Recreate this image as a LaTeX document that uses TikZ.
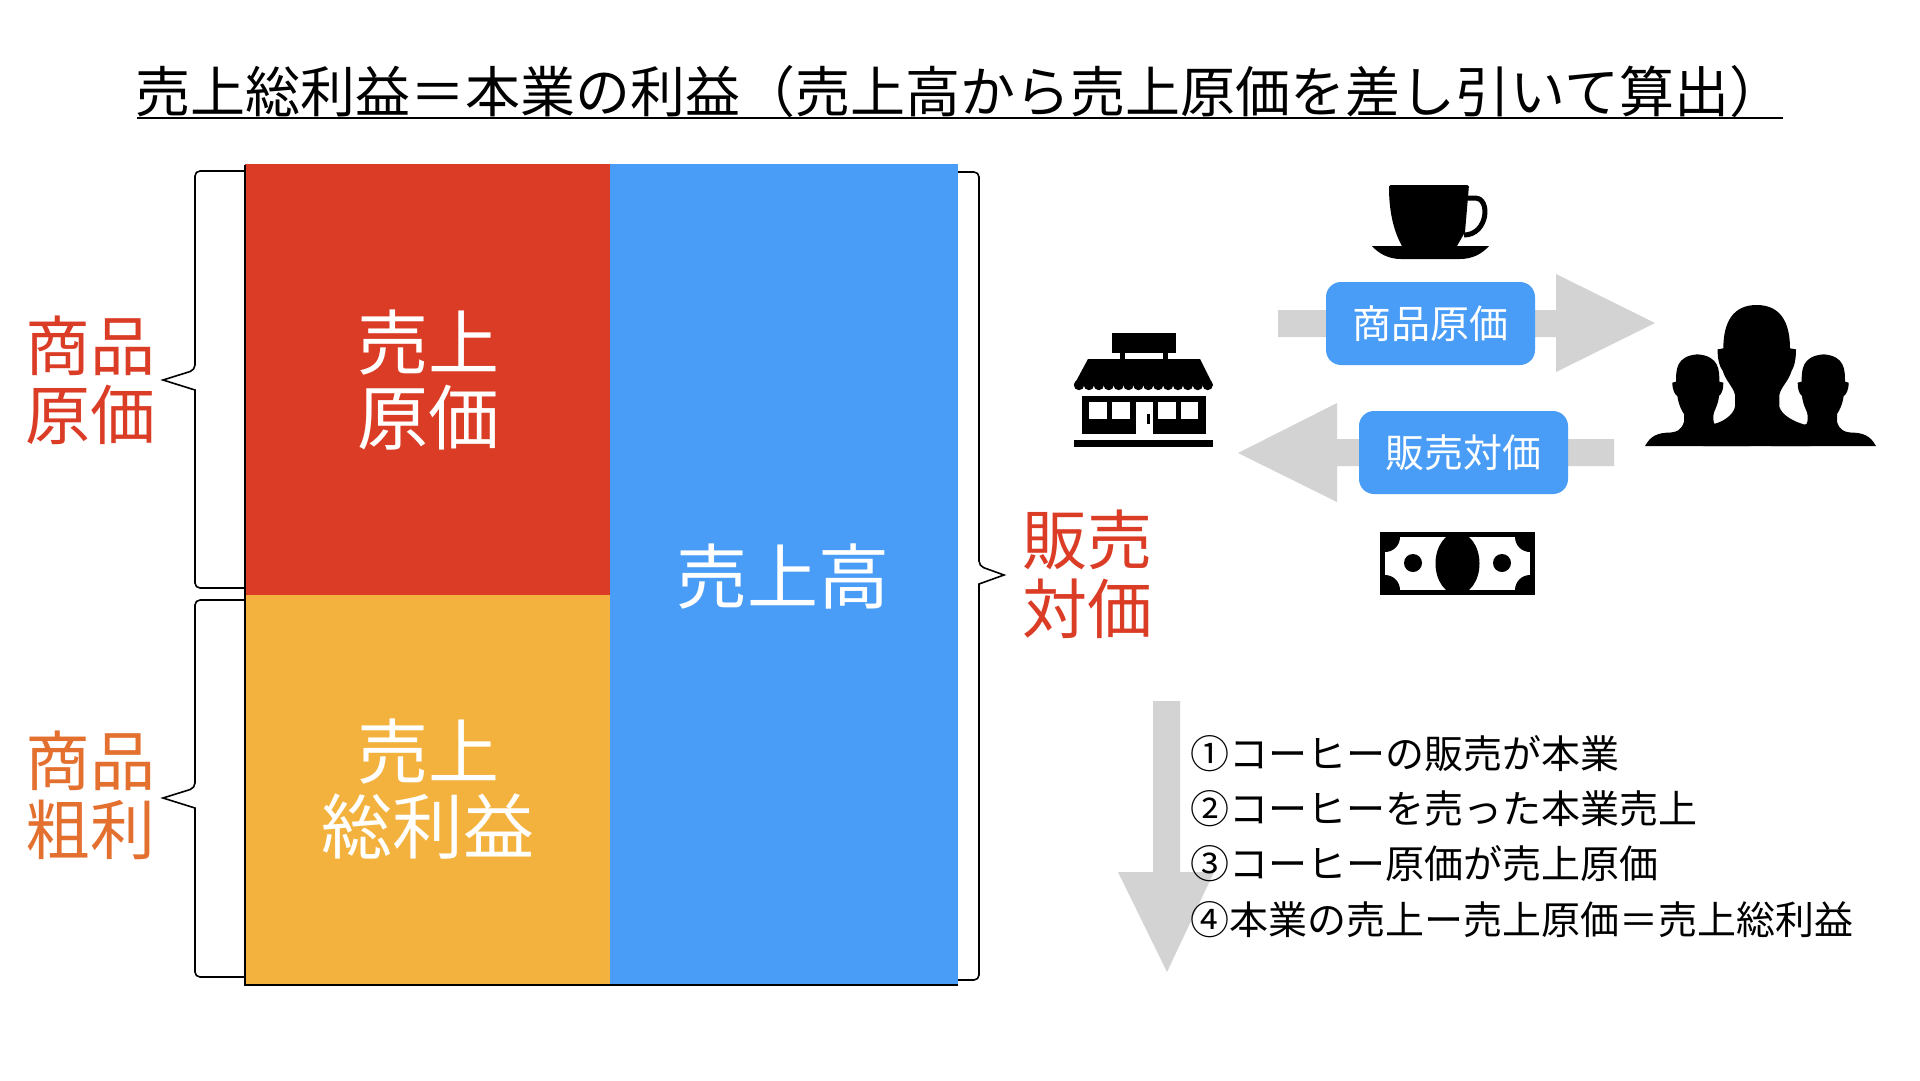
\documentclass[tikz,border=0pt]{standalone}
\usepackage{fontspec}
\setmainfont{Noto Sans CJK JP}
\definecolor{cred}{HTML}{DB3C26}
\definecolor{cyellow}{HTML}{F3B13D}
\definecolor{cblue}{HTML}{499DF7}
\definecolor{cgray}{HTML}{D3D3D3}
\definecolor{corange}{HTML}{E4702F}
\newcommand{\fs}[2]{\fontsize{#1}{#2}\selectfont}
\newcommand{\sideperson}{(232,223) .. controls (168,228) and (168,270) .. (168,305) -- (157,308) .. controls (157,330) and (165,345) .. (172,348) .. controls (176,375) and (185,392) .. (192,402) -- (192,425) .. controls (185,450) and (170,458) .. (140,458) .. controls (100,460) and (85,480) .. (75,498) -- (390,498) -- (282,430) .. controls (278,415) and (280,400) .. (284,392) .. controls (292,375) and (296,360) .. (297,348) .. controls (307,340) and (310,325) .. (310,308) -- (298,305) .. controls (298,270) and (298,228) .. (232,223) -- cycle}
\tikzset{
  big/.style={text=white,font=\fs{71}{75},align=center,inner sep=0pt},
  side/.style={font=\fs{65}{69},align=center,inner sep=0pt},
  pill/.style={fill=cblue,rounded corners=15pt,minimum width=209pt,minimum height=83pt,inner sep=0pt,text=white,font=\fs{39}{39}},
  brace/.style={draw=black,line width=1.6pt,rounded corners=5pt},
  block/.style={fill=cgray,draw=none},
  listline/.style={font=\fs{39}{39},anchor=west,inner sep=0pt}
}
\begin{document}
\begin{tikzpicture}[x=1pt,y=-1pt]
\useasboundingbox (0,0) rectangle (1920,1080);
\fill[white] (0,0) rectangle (1920,1080);
% title
\node[font=\fs{55}{55},inner sep=0pt] (title) at (960,92) {売上総利益＝本業の利益（売上高から売上原価を差し引いて算出）};
\draw[line width=2pt] (137,118) -- (1783,118);
% braces
\draw[brace] (245,171) -- (195,171) -- (195,370) [sharp corners] -- (163,380) -- (195,390) [rounded corners=5pt] -- (195,588) -- (245,588);
\draw[brace] (245,600) -- (195,600) -- (195,788) [sharp corners] -- (163,798) -- (195,808) [rounded corners=5pt] -- (195,977) -- (245,977);
\draw[brace] (958,172) -- (979,172) -- (979,566) [sharp corners] -- (1004,575) -- (979,584) [rounded corners=5pt] -- (979,980) -- (958,980);
% blocks
\fill[cred] (245,164) rectangle (610,595);
\fill[cyellow] (245,595) rectangle (610,985);
\fill[cblue] (610,164) rectangle (958,985);
\draw[line width=1.6pt] (245,165) -- (245,985) -- (958,985);
\node[big] (n1) at (428,380) {売上\\原価};
\node[big] (n2) at (428,789) {売上\\総利益};
\node[big] (n3) at (783,577) {売上高};
\node[side,text=cred] (l1) at (90,380) {商品\\原価};
\node[side,text=corange] (l2) at (90,795) {商品\\粗利};
\node[side,text=cred] (l3) at (1087,574) {販売\\対価};
% grey arrows
\fill[block] (1278,310) -- (1556,310) -- (1556,274) -- (1655,323) -- (1556,372) -- (1556,337) -- (1278,337) -- cycle;
\fill[block] (1614,439) -- (1337,439) -- (1337,403) -- (1238,453) -- (1337,502) -- (1337,466) -- (1614,466) -- cycle;
\fill[block] (1153,701) -- (1180,701) -- (1180,872) -- (1214,872) -- (1167,972) -- (1118,872) -- (1153,872) -- cycle;
\node[pill] (p1) at (1430.5,323.5) {商品原価};
\node[pill] (p2) at (1463.5,452.5) {販売対価};
% list
\node[listline] (a) at (1190,754) {①コーヒーの販売が本業};
\node[listline] (b) at (1190,809) {②コーヒーを売った本業売上};
\node[listline] (c) at (1190,864) {③コーヒー原価が売上原価};
\node[listline] (d) at (1190,920) {④本業の売上ー売上原価＝売上総利益};
% cup
\fill[black] (1389,187) [rounded corners=1.5pt] -- (1389,185) -- (1469,185) [sharp corners] -- (1465,232) -- (1457,246) -- (1402,246) .. controls (1393,230) and (1389,210) .. (1389,187) -- cycle;
\draw[line width=5pt] (1467,198) -- (1475,198) .. controls (1491,198) and (1488,235) .. (1464,235);
\fill[black] (1372,246) -- (1489,246) .. controls (1482,254) and (1472,259) .. (1460,259) -- (1401,259) .. controls (1389,259) and (1379,254) .. (1372,246) -- cycle;
% store
\fill[black] (1112,333) rectangle (1176,353);
\fill[black] (1120,353) rectangle (1125,360);
\fill[black] (1163,353) rectangle (1168,360);
\fill[black] (1088,359) -- (1200,359) -- (1213,385) -- (1074,385) -- cycle;
\foreach \k in {0,...,13} {\fill[black] (1079+\k*9.9,385) circle[radius=5.2pt];}
\fill[black] (1082,396) rectangle (1206,434);
\fill[white] (1089,402) rectangle (1107,419);
\fill[white] (1112,402) rectangle (1130,419);
\fill[white] (1158,402) rectangle (1176,419);
\fill[white] (1181,402) rectangle (1198,419);
\fill[white] (1136,402) rectangle (1153,434);
\fill[black] (1147,414) rectangle (1150,424);
\fill[black] (1074,440) rectangle (1213,447);
% bill
\fill[black] (1380,532) rectangle (1535,595);
\begin{scope}
\clip (1385,537) rectangle (1530,590);
\fill[white] (1385,537) rectangle (1530,590);
\foreach \u/\v in {1385/537,1530/537,1385/590,1530/590} {\fill[black] (\u,\v) circle[radius=15pt];}
\end{scope}
\fill[black] (1457.5,563.5) ellipse[x radius=22pt,y radius=31pt];
\fill[black] (1413,563) circle[radius=9pt];
\fill[black] (1502,563) circle[radius=9pt];
% people
\begin{scope}[shift={(1620,280)},scale=1/3]
\fill[black] \sideperson;
\fill[black] (410,75) .. controls (340,75) and (310,125) .. (310,205) -- (293,208) .. controls (292,240) and (300,262) .. (308,272) .. controls (318,305) and (340,320) .. (345,345) -- (345,380) .. controls (340,405) and (310,425) .. (282,432) -- (250,498) -- (570,498) -- (558,435) .. controls (520,425) and (485,405) .. (478,380) -- (478,345) .. controls (483,320) and (505,305) .. (515,272) .. controls (522,262) and (528,240) .. (528,208) -- (510,205) .. controls (510,125) and (480,75) .. (410,75) -- cycle;
\end{scope}
\begin{scope}[shift={(1901,280)},xscale=-1/3,yscale=1/3]
\fill[black] \sideperson;
\end{scope}
\end{tikzpicture}
\end{document}
